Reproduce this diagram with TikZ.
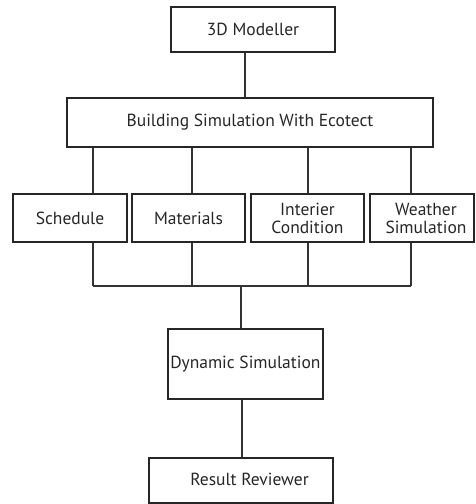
\documentclass[tikz,border=0pt]{standalone}
\usepackage{fontspec}
\setmainfont{PT Sans}
\begin{document}
\begin{tikzpicture}[x=1pt,y=-1pt,
  box/.style={draw=black!85,line width=1.2pt,inner sep=0pt,minimum height=#1},
  box/.default=46pt,
  lbl/.style={font=\fontsize{17.5}{18}\selectfont,text=black!85,align=center},
  wire/.style={draw=black!80,line width=1.2pt}]
\useasboundingbox (0,0) rectangle (475,504);
% boxes
\node[box=45pt,minimum width=164pt] (mod) at (253,29.5) {};
\node[lbl] at (mod) {3D Modeller};
\node[box=49pt,minimum width=366pt] (bld) at (250,122.5) {};
\node[lbl] at (bld) {Building Simulation With Ecotect};
\node[box=48pt,minimum width=114pt] (sch) at (70,218) {};
\node[lbl] at (sch) {Schedule};
\node[box=48pt,minimum width=113pt] (mat) at (188.5,218) {};
\node[lbl] at (mat) {Materials};
\node[box=48pt,minimum width=113pt] (int) at (307.5,218) {};
\node[lbl] at (int) {Interier\\Condition};
\node[box=48pt,minimum width=104pt] (wea) at (422,218) {};
\node[lbl] at (426,218) {Weather\\Simulation};
\node[box=70pt,minimum width=155pt] (dyn) at (245.5,364) {};
\node[lbl,anchor=east] at (324,364) {Dynamic Simulation};
\node[box=45pt,minimum width=184pt] (res) at (241,480.5) {};
\node[lbl] at (249.5,479) {Result Reviewer};
% connectors
\coordinate (busL) at (93,286);
\coordinate (busR) at (411,286);
\coordinate (busM) at (241,286);
\draw[wire] (mod.south -| 245,0) -- (bld.north -| 245,0);
\foreach \n/\x in {sch/93,mat/192,int/308,wea/411}{
  \draw[wire] (bld.south -| \x,0) -- (\n.north -| \x,0);
  \draw[wire] (\n.south -| \x,0) -- (busL -| \x,0);
}
\draw[wire] (busL) -- (busR);
\draw[wire] (busM) -- (dyn.north -| busM);
\draw[wire] (dyn.south -| 242,0) -- (res.north -| 242,0);
\end{tikzpicture}
\end{document}
